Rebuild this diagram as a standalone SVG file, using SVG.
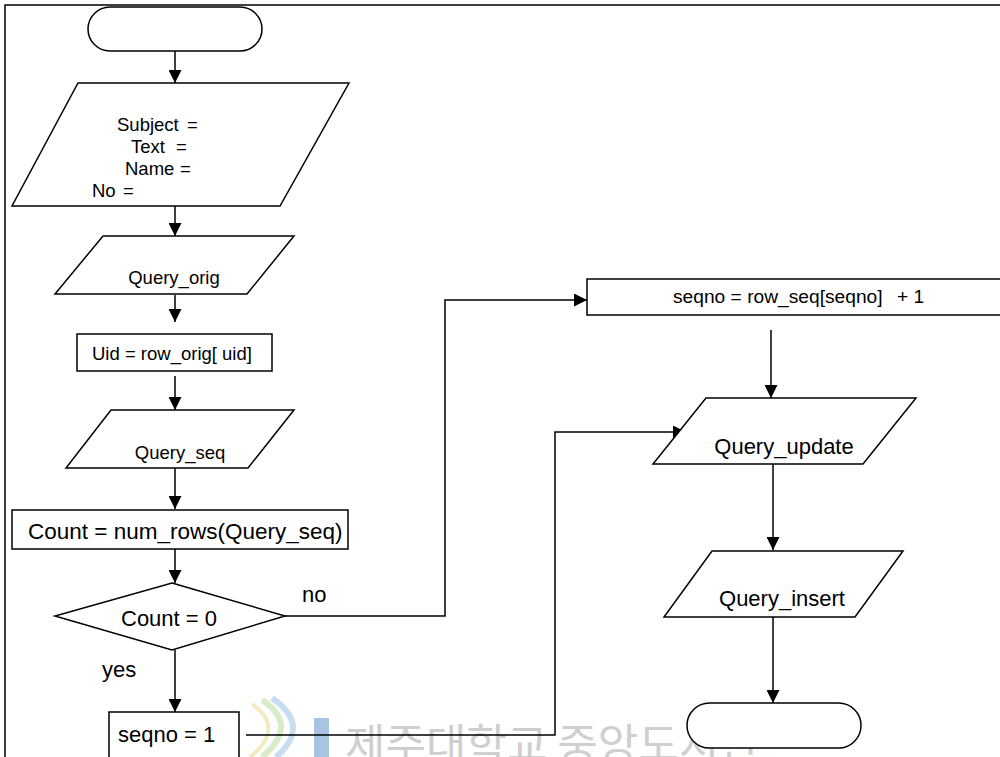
<svg xmlns="http://www.w3.org/2000/svg" width="1000" height="757" viewBox="0 0 1000 757">
<defs>
<marker id="ah" markerUnits="userSpaceOnUse" markerWidth="14" markerHeight="13" refX="13" refY="6.5" orient="auto">
<path d="M0,0 L13,6.5 L0,13 z" fill="#000"/>
</marker>
<style>
.s{fill:#fff;stroke:#000;stroke-width:1.5}
.c{fill:none;stroke:#000;stroke-width:1.5}
.t{font-family:"Liberation Sans",Arial,sans-serif;fill:#000}
.sm{font-size:18.5px}
.bg{font-size:22px}
.wm{font-family:"Noto Sans CJK KR","Noto Sans",sans-serif;font-size:44px;fill:#cfcfcf}
</style>
</defs>
<rect x="0" y="0" width="1000" height="757" fill="#fff"/>
<g id="watermark">
<path d="M262,700 Q300,725 262,757" fill="none" stroke="#d8ecc8" stroke-width="6"/>
<path d="M272,698 Q312,726 276,757" fill="none" stroke="#c8def0" stroke-width="6"/>
<path d="M252,704 Q286,728 250,757" fill="none" stroke="#f0ecc0" stroke-width="4"/>
<rect x="314" y="718" width="15" height="42" fill="#a9c4e2"/>
<text class="wm" x="345" y="761">제주대학교 중앙도서관</text>
</g>
<g id="frame">
<path class="c" d="M5,757 L5,5 L1000,5"/>
</g>
<g id="connectors">
<path class="c" d="M175,51 L175,83" marker-end="url(#ah)"/>
<path class="c" d="M175,206 L175,236" marker-end="url(#ah)"/>
<path class="c" d="M175,295 L175,322" marker-end="url(#ah)"/>
<path class="c" d="M175,376 L175,410" marker-end="url(#ah)"/>
<path class="c" d="M175,468 L175,509" marker-end="url(#ah)"/>
<path class="c" d="M175,549 L175,583" marker-end="url(#ah)"/>
<path class="c" d="M175,650 L175,712" marker-end="url(#ah)"/>
<path class="c" d="M285,616 L445,616 L445,300 L587,300" marker-end="url(#ah)"/>
<path class="c" d="M246,735 L555,735 L555,432 L686,432" marker-end="url(#ah)"/>
<path class="c" d="M771,330 L771,398" marker-end="url(#ah)"/>
<path class="c" d="M773,464 L773,550" marker-end="url(#ah)"/>
<path class="c" d="M773,617 L773,703" marker-end="url(#ah)"/>
</g>
<g id="start">
<rect class="s" x="88" y="7" width="174" height="44" rx="22" ry="22"/>
</g>
<g id="input">
<polygon class="s" points="78,83 349,83 280,206 12,206"/>
<text class="t sm" x="117" y="131">Subject <tspan x="187">=</tspan></text>
<text class="t sm" x="131" y="153">Text <tspan x="176">=</tspan></text>
<text class="t sm" x="125" y="175">Name <tspan x="180">=</tspan></text>
<text class="t sm" x="92" y="197">No <tspan x="123">=</tspan></text>
</g>
<g id="query_orig">
<polygon class="s" points="103,236 294,236 247,294 55,294"/>
<text class="t sm" x="174" y="284" text-anchor="middle">Query_orig</text>
</g>
<g id="uid">
<rect class="s" x="77" y="334" width="195" height="37"/>
<text class="t sm" x="92" y="360">Uid = row_orig[ uid]</text>
</g>
<g id="query_seq">
<polygon class="s" points="111,410 294,410 248,468 66,468"/>
<text class="t sm" x="180" y="459" text-anchor="middle">Query_seq</text>
</g>
<g id="count">
<rect class="s" x="12" y="510" width="336" height="39"/>
<text class="t" style="font-size:22.5px" x="28" y="539">Count = num_rows(Query_seq)</text>
</g>
<g id="decision">
<polygon class="s" points="172,583 285,616 172,650 55,616"/>
<text class="t bg" x="121" y="626">Count = 0</text>
<text class="t bg" x="302" y="602">no</text>
<text class="t bg" x="102" y="677">yes</text>
</g>
<g id="seqno1">
<rect class="s" x="109" y="712" width="130" height="60"/>
<text class="t bg" x="118" y="742">seqno = 1</text>
</g>
<g id="seqno_inc">
<rect class="s" x="587" y="279" width="430" height="36"/>
<text class="t" style="font-size:19.2px" x="673" y="303">seqno = row_seq[seqno] <tspan x="897">+ 1</tspan></text>
</g>
<g id="query_update">
<polygon class="s" points="706,398 916,398 863,464 653,464"/>
<text class="t bg" x="784" y="454" text-anchor="middle">Query_update</text>
</g>
<g id="query_insert">
<polygon class="s" points="712,551 903,551 855,617 664,617"/>
<text class="t bg" x="782" y="606" text-anchor="middle">Query_insert</text>
</g>
<g id="end">
<rect class="s" x="687" y="703" width="174" height="45" rx="22.5" ry="22.5"/>
</g>
</svg>
